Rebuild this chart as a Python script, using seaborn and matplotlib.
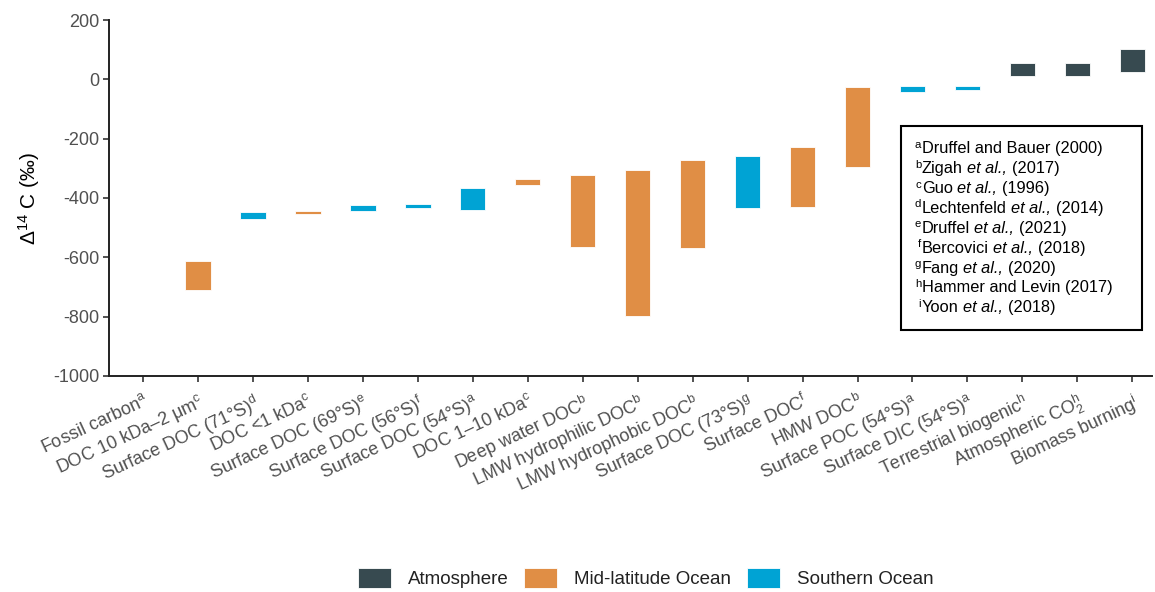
import matplotlib
matplotlib.use("Agg")
import matplotlib.pyplot as plt
import seaborn as sns
import pandas as pd
from matplotlib.patches import Rectangle, Patch

# Radiocarbon ranges (low / high, in per mil) for each carbon pool
sources = [
    r"Fossil carbon$^{\mathrm{a}}$",
    r"DOC 10 kDa–2 μm$^{\mathrm{c}}$",
    r"Surface DOC (71°S)$^{\mathrm{d}}$",
    r"DOC <1 kDa$^{\mathrm{c}}$",
    r"Surface DOC (69°S)$^{\mathrm{e}}$",
    r"Surface DOC (56°S)$^{\mathrm{f}}$",
    r"Surface DOC (54°S)$^{\mathrm{a}}$",
    r"DOC 1–10 kDa$^{\mathrm{c}}$",
    r"Deep water DOC$^{\mathrm{b}}$",
    r"LMW hydrophilic DOC$^{\mathrm{b}}$",
    r"LMW hydrophobic DOC$^{\mathrm{b}}$",
    r"Surface DOC (73°S)$^{\mathrm{g}}$",
    r"Surface DOC$^{\mathrm{f}}$",
    r"HMW DOC$^{\mathrm{b}}$",
    r"Surface POC (54°S)$^{\mathrm{a}}$",
    r"Surface DIC (54°S)$^{\mathrm{a}}$",
    r"Terrestrial biogenic$^{\mathrm{h}}$",
    r"Atmospheric CO$_{\mathrm{2}}^{\mathrm{h}}$",
    r"Biomass burning$^{\mathrm{i}}$",
]
low = [-1000, -710, -472, -453, -445, -433, -439, -356, -566, -797,
       -570, -433, -429, -295, -44, -37, 11, 11, 26]
high = [-1000, -612, -447, -444, -423, -420, -367, -337, -323, -306,
        -272, -258, -228, -26, -23, -23, 56, 56, 101]
regions = ["Mid-latitude Ocean", "Mid-latitude Ocean", "Southern Ocean",
           "Mid-latitude Ocean", "Southern Ocean", "Southern Ocean",
           "Southern Ocean", "Mid-latitude Ocean", "Mid-latitude Ocean",
           "Mid-latitude Ocean", "Mid-latitude Ocean", "Southern Ocean",
           "Mid-latitude Ocean", "Mid-latitude Ocean", "Southern Ocean",
           "Southern Ocean", "Atmosphere", "Atmosphere", "Atmosphere"]

region_order = ["Atmosphere", "Mid-latitude Ocean", "Southern Ocean"]
region_colors = ["#374a50", "#e08e45", "#00a3d4"]

# Reference key: (marker, author, italic part, year)
ref_marks = ["a", "b", "c", "d", "e", "f", "g", "h", "i"]
ref_authors = ["Druffel and Bauer", "Zigah", "Guo", "Lechtenfeld", "Druffel",
               "Bercovici", "Fang", "Hammer and Levin", "Yoon"]
ref_italic = ["", "et al.,", "et al.,", "et al.,", "et al.,", "et al.,",
              "et al.,", "", "et al.,"]
ref_years = ["(2000)", "(2017)", "(1996)", "(2014)", "(2021)", "(2018)",
             "(2020)", "(2017)", "(2018)"]

sns.set_theme(style="ticks")
plt.rcParams["font.family"] = ["Liberation Sans", "DejaVu Sans"]
plt.rcParams["mathtext.fontset"] = "custom"
plt.rcParams["mathtext.rm"] = "Liberation Sans"
plt.rcParams["mathtext.it"] = "Liberation Sans:italic"
plt.rcParams["mathtext.bf"] = "Liberation Sans:bold"
plt.rcParams["axes.unicode_minus"] = False

df = pd.DataFrame({"source": sources, "low": low, "high": high, "region": regions})
df["span"] = df["high"] - df["low"]
palette = dict(zip(region_order, region_colors))

fig = plt.figure(figsize=(11.55, 5.92), dpi=100)
ax = fig.add_axes([0.0944, 0.3649, 0.9026, 0.6013])

# Floating bars: height = range, bottom = lower bound
for reg in region_order:
    sub = df[df["region"] == reg]
    sns.barplot(data=sub, x="source", y="span", order=sources, ax=ax,
                color=palette[reg], saturation=1, width=0.46, errorbar=None,
                bottom=sub["low"].to_numpy(), edgecolor="white", linewidth=0.6)

ax.set_xlim(-0.62, 18.35)
ax.set_ylim(-1000, 200)
ax.set_yticks(range(-1000, 201, 200))
ax.set_xlabel("")
ax.set_ylabel("Δ$^{\\mathrm{14}}$ C (‰)", fontsize=15, color="black", labelpad=8)
sns.despine(ax=ax)
for side in ("left", "bottom"):
    ax.spines[side].set_linewidth(1.4)
    ax.spines[side].set_color("#222222")
ax.tick_params(axis="both", length=4, width=1.2, color="#333333",
               labelcolor="#505050")
ax.tick_params(axis="y", labelsize=13, pad=3)
ax.tick_params(axis="x", labelsize=13, pad=7)
for lab in ax.get_xticklabels():
    lab.set_rotation(25)
    lab.set_ha("right")
    lab.set_va("top")
    lab.set_rotation_mode("anchor")

# Reference key box
ax.add_patch(Rectangle((0.760, 0.129), 0.231, 0.573, transform=ax.transAxes,
                       fill=False, edgecolor="black", linewidth=1.5, zorder=5))
fs = 11.8
gap = 0.278 * fs  # width of a space, in points
x_main = 0.7795
for i in range(len(ref_marks)):
    y = (376 - (148.3 + 5 + i * 19.88)) / 356
    ax.text(x_main - 0.0005, y + 5.5 / 356, ref_marks[i], transform=ax.transAxes,
            fontsize=8.2, color="black", va="baseline", ha="right", zorder=6)
    prev = ax.text(x_main, y, ref_authors[i], transform=ax.transAxes,
                   fontsize=fs, color="black", va="baseline", ha="left", zorder=6)
    if ref_italic[i]:
        prev = ax.annotate(ref_italic[i], xy=(1, 0), xycoords=prev,
                           xytext=(gap, 0), textcoords="offset points",
                           fontsize=fs, fontstyle="italic", color="black",
                           va="bottom", ha="left", zorder=6)
    ax.annotate(ref_years[i], xy=(1, 0), xycoords=prev,
                xytext=(gap, 0), textcoords="offset points",
                fontsize=fs, color="black", va="bottom", ha="left", zorder=6)

handles = [Patch(facecolor=c, edgecolor="white", linewidth=0.6, label=r)
           for r, c in zip(region_order, region_colors)]
fig.legend(handles=handles, loc="lower center", bbox_to_anchor=(0.559, 0.006),
           ncol=3, frameon=False, fontsize=13.5, handlelength=1.76,
           handleheight=1.3, handletextpad=0.9, columnspacing=0.85,
           borderaxespad=0, borderpad=0, labelcolor="#222222")

fig.savefig("out.png", dpi=100)
